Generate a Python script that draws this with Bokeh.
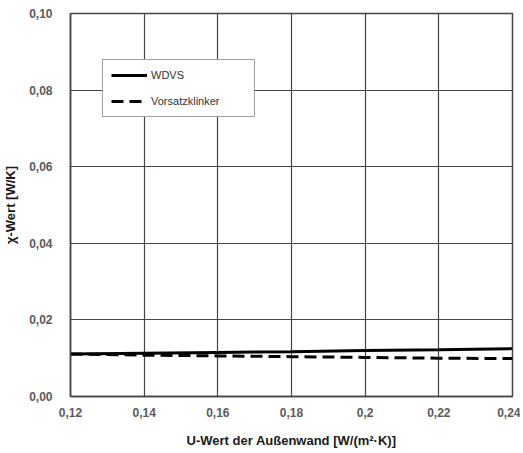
from bokeh.plotting import figure
from bokeh.models import FixedTicker, Legend, LegendItem
from bokeh.embed import file_html
from bokeh.resources import INLINE

u_values = [0.12, 0.14, 0.16, 0.18, 0.20, 0.22, 0.24]
wdvs = [0.0111, 0.0113, 0.0115, 0.0117, 0.0120, 0.0122, 0.0125]
vorsatz = [0.0111, 0.0108, 0.0106, 0.0104, 0.0102, 0.0100, 0.0099]
x_ticks = [0.12, 0.14, 0.16, 0.18, 0.20, 0.22, 0.24]
x_tick_labels = ["0,12", "0,14", "0,16", "0,18", "0,2", "0,22", "0,24"]
y_ticks = [0.0, 0.02, 0.04, 0.06, 0.08, 0.10]
y_tick_labels = ["0,00", "0,02", "0,04", "0,06", "0,08", "0,10"]

FONT = "Liberation Sans"
GRID = "#4a4440"

p = figure(width=520, height=450, output_backend="svg", toolbar_location=None,
           x_range=(0.12, 0.24), y_range=(0.0, 0.10),
           min_border_left=70, min_border_right=8, min_border_top=13, min_border_bottom=52)
p.background_fill_color = "white"
p.border_fill_color = "white"
p.outline_line_color = GRID
p.outline_line_width = 1.5

r1 = p.line(u_values, wdvs, line_color="black", line_width=3)
r2 = p.line(u_values, vorsatz, line_color="black", line_width=3, line_dash="12 6")

p.xaxis.ticker = FixedTicker(ticks=x_ticks)
p.yaxis.ticker = FixedTicker(ticks=y_ticks)
p.xaxis.major_label_overrides = {t: l for t, l in zip(x_ticks, x_tick_labels)}
p.yaxis.major_label_overrides = {t: l for t, l in zip(y_ticks, y_tick_labels)}

for ax in (p.xaxis, p.yaxis):
    ax.axis_line_color = GRID
    ax.axis_line_width = 1.5
    ax.major_tick_line_color = None
    ax.minor_tick_line_color = None
    ax.major_label_text_font = FONT
    ax.major_label_text_font_size = "12px"
    ax.major_label_text_font_style = "bold"
    ax.major_label_text_color = "#5a5a5a"
    ax.axis_label_text_font = FONT
    ax.axis_label_text_font_style = "bold"
    ax.axis_label_text_font_size = "13px"
    ax.axis_label_text_color = "#1a1a1a"

p.xaxis.major_label_standoff = 5
p.xaxis.axis_label = "U-Wert der Außenwand [W/(m²·K)]"
p.xaxis.axis_label_standoff = 13
p.yaxis.axis_label = "χ-Wert [W/K]"
p.yaxis.major_label_standoff = 12
p.yaxis.axis_label_standoff = 8

p.xgrid.grid_line_color = GRID
p.ygrid.grid_line_color = GRID
p.xgrid.grid_line_width = 1.2
p.ygrid.grid_line_width = 1.2

legend = Legend(items=[LegendItem(label="WDVS", renderers=[r1]),
                       LegendItem(label="Vorsatzklinker", renderers=[r2])],
                location=(32, 279))
legend.border_line_color = GRID
legend.border_line_width = 1.2
legend.background_fill_color = "white"
legend.background_fill_alpha = 1.0
legend.label_text_font = FONT
legend.label_text_font_size = "11px"
legend.label_text_color = "#333333"
legend.glyph_width = 36
legend.glyph_height = 14
legend.label_height = 14
legend.label_width = 95
legend.spacing = 12
legend.padding = 8
legend.margin = 0
legend.label_standoff = 4
p.add_layout(legend, "center")

open("out.html", "w").write(file_html(p, INLINE))
